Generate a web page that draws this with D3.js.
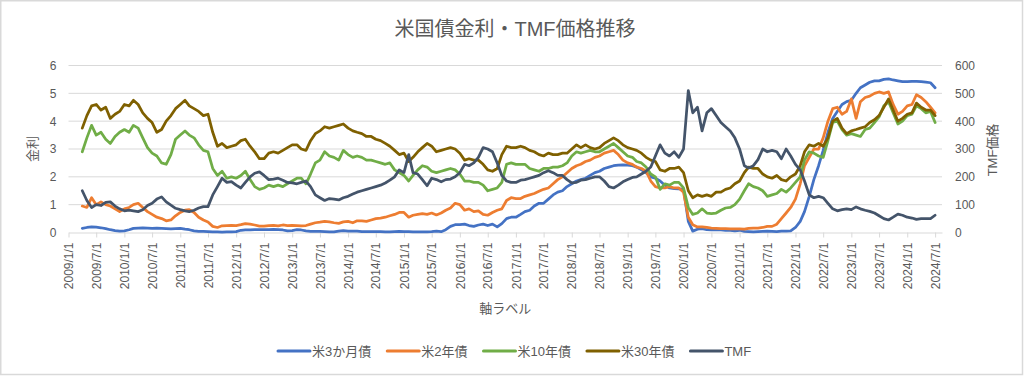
<!DOCTYPE html>
<html>
<head>
<meta charset="utf-8">
<script src="https://cdn.jsdelivr.net/npm/d3@7"></script>
<style>
  html, body { margin: 0; padding: 0; background: #fff; }
  svg { display: block; font-family: "Liberation Sans", "Noto Sans CJK JP", sans-serif; }
</style>
</head>
<body>
<div id="chart"></div>
<script>
// monthly readings, 2009/4 .. 2024/7
const startMonth = new Date(2009, 3, 1);
const endMonth = new Date(2024, 7, 1);

const seriesNames = ["米3か月債", "米2年債", "米10年債", "米30年債", "TMF"];
const seriesColors = ["#4472C4", "#ED7D31", "#70AD47", "#7F6000", "#44546A"];

const bill3m = [
  0.15,0.18,0.2,0.19,0.17,0.14,0.1,0.07,0.05,0.06,
  0.1,0.15,0.16,0.17,0.16,0.15,0.16,0.15,0.14,0.13,0.14,0.15,
  0.12,0.1,0.06,0.04,0.04,0.03,0.02,0.02,0.01,0.02,0.02,0.03,
  0.08,0.09,0.09,0.1,0.1,0.1,0.1,0.11,0.1,0.09,0.06,0.07,
  0.1,0.09,0.06,0.04,0.04,0.04,0.03,0.02,0.02,0.05,0.07,0.05,
  0.05,0.05,0.03,0.03,0.03,0.03,0.03,0.02,0.02,0.03,0.04,0.03,
  0.03,0.02,0.02,0.02,0.02,0.03,0.05,0.03,0.1,0.22,0.28,0.28,
  0.3,0.25,0.22,0.27,0.3,0.25,0.3,0.2,0.32,0.5,0.55,0.55,
  0.65,0.75,0.8,0.95,1.05,1.05,1.2,1.35,1.45,1.5,1.65,1.75,
  1.85,1.9,1.95,2.05,2.15,2.2,2.3,2.35,2.4,2.42,2.43,2.42,
  2.4,2.35,2.25,2.15,2.0,1.95,1.85,1.7,1.6,1.58,1.57,1.55,
  0.4,0.05,0.12,0.14,0.1,0.09,0.1,0.09,0.08,0.08,0.06,0.08,
  0.04,0.03,0.02,0.03,0.04,0.05,0.04,0.03,0.05,0.05,0.06,0.18,
  0.4,0.75,1.3,1.9,2.4,2.95,3.6,4.1,4.35,4.6,4.7,4.75,
  5.0,5.2,5.3,5.4,5.45,5.45,5.5,5.52,5.48,5.45,5.42,5.42,
  5.43,5.43,5.42,5.4,5.38,5.2
];

const note2y = [
  0.95,0.9,1.25,1.0,1.1,1.0,0.95,0.85,0.75,0.85,
  0.9,1.0,1.05,0.9,0.75,0.65,0.55,0.5,0.42,0.45,0.6,0.72,
  0.8,0.82,0.72,0.55,0.45,0.38,0.22,0.18,0.24,0.25,0.26,0.25,
  0.28,0.32,0.3,0.27,0.23,0.23,0.25,0.26,0.24,0.27,0.25,0.26,
  0.25,0.24,0.25,0.3,0.35,0.37,0.4,0.38,0.35,0.33,0.38,0.4,
  0.35,0.42,0.42,0.4,0.45,0.5,0.52,0.55,0.6,0.65,0.72,0.72,
  0.55,0.62,0.65,0.68,0.65,0.7,0.63,0.7,0.8,0.88,1.05,1.0,
  0.8,0.85,0.75,0.78,0.65,0.62,0.72,0.8,0.85,1.15,1.25,1.22,
  1.22,1.3,1.35,1.4,1.48,1.55,1.6,1.75,1.9,2.0,2.15,2.3,
  2.4,2.45,2.55,2.6,2.7,2.75,2.85,2.9,2.95,2.8,2.6,2.5,
  2.45,2.35,2.3,2.2,1.85,1.65,1.6,1.6,1.65,1.6,1.6,1.45,
  0.55,0.28,0.2,0.2,0.18,0.16,0.15,0.14,0.14,0.13,0.13,0.13,
  0.12,0.15,0.16,0.16,0.18,0.22,0.22,0.3,0.5,0.7,0.9,1.2,
  1.75,2.4,2.7,3.0,3.0,3.4,4.0,4.45,4.5,4.25,4.35,4.8,
  4.1,4.7,4.85,4.9,5.0,5.05,5.0,5.05,4.6,4.25,4.35,4.55,
  4.6,4.95,4.85,4.7,4.5,4.3
];

const note10y = [
  2.9,3.4,3.85,3.5,3.6,3.35,3.2,3.45,3.6,3.7,
  3.6,3.85,3.75,3.4,3.05,2.85,2.75,2.5,2.45,2.8,3.35,3.5,
  3.65,3.5,3.4,3.15,2.95,2.9,2.3,2.05,2.2,1.95,2.0,1.95,
  2.05,2.2,1.9,1.65,1.55,1.6,1.7,1.65,1.7,1.65,1.75,1.85,
  1.95,1.95,1.75,2.1,2.5,2.6,2.9,2.75,2.7,2.6,2.95,2.8,
  2.7,2.75,2.7,2.6,2.6,2.55,2.5,2.45,2.5,2.25,2.15,2.05,
  1.85,2.05,2.25,2.4,2.35,2.2,2.15,2.2,2.25,2.3,2.25,2.1,
  1.85,1.85,1.8,1.8,1.7,1.5,1.55,1.6,1.8,2.45,2.5,2.45,
  2.45,2.45,2.3,2.25,2.2,2.3,2.3,2.35,2.35,2.4,2.5,2.75,
  2.9,2.85,2.9,2.95,2.9,2.9,3.0,3.1,3.2,3.05,2.9,2.75,
  2.7,2.55,2.5,2.35,2.1,2.0,1.55,1.75,1.7,1.8,1.8,1.6,
  0.9,0.65,0.7,0.85,0.7,0.68,0.7,0.8,0.88,0.9,1.0,1.2,
  1.5,1.75,1.65,1.6,1.5,1.3,1.35,1.4,1.55,1.45,1.6,1.8,
  2.0,2.6,2.9,2.85,2.75,2.7,3.3,3.95,4.0,3.7,3.5,3.55,
  3.5,3.45,3.7,3.75,3.95,4.15,4.55,4.7,4.3,3.9,4.0,4.2,
  4.25,4.55,4.45,4.3,4.35,3.95
];

const bond30y = [
  3.75,4.2,4.55,4.6,4.4,4.5,4.1,4.25,4.35,4.6,
  4.55,4.75,4.6,4.3,4.1,3.95,3.6,3.7,4.0,4.2,4.45,4.6,
  4.75,4.55,4.45,4.35,4.2,4.25,3.6,3.1,3.2,3.05,3.1,3.15,
  3.3,3.35,3.1,2.9,2.65,2.65,2.85,2.9,2.85,2.95,3.05,3.15,
  3.15,3.0,2.95,3.3,3.55,3.65,3.8,3.75,3.8,3.85,3.9,3.75,
  3.65,3.6,3.55,3.45,3.45,3.35,3.3,3.2,3.1,2.95,2.8,2.85,
  2.55,2.7,2.9,3.05,3.2,3.1,2.9,2.95,3.0,3.05,3.0,2.85,
  2.6,2.65,2.6,2.6,2.45,2.25,2.2,2.3,2.8,3.1,3.05,3.05,
  3.1,3.05,2.95,2.9,2.8,2.75,2.85,2.8,2.8,2.85,2.85,3.0,
  3.15,3.05,3.15,3.05,3.0,3.05,3.2,3.3,3.4,3.3,3.15,3.05,
  3.0,2.95,2.85,2.7,2.6,2.55,2.25,2.2,2.3,2.3,2.35,2.15,
  1.5,1.25,1.35,1.3,1.35,1.3,1.45,1.45,1.55,1.6,1.75,1.85,
  2.15,2.35,2.3,2.3,2.1,2.0,1.95,2.05,1.9,1.85,2.0,2.1,
  2.4,2.9,3.15,3.1,3.2,3.1,3.4,4.0,4.1,3.75,3.55,3.65,
  3.7,3.75,3.8,3.95,4.05,4.2,4.5,4.8,4.4,4.0,4.1,4.25,
  4.3,4.65,4.5,4.4,4.4,4.2
];

const tmf = [
  150,115,90,100,97,108,110,95,85,78,
  80,78,75,82,97,105,120,128,110,98,87,82,
  78,75,80,88,93,93,135,165,195,180,183,170,
  160,180,200,213,218,205,190,192,195,188,180,178,
  175,180,185,165,135,125,115,122,120,117,125,130,
  138,145,150,155,160,165,170,178,188,200,225,215,
  280,215,210,190,168,195,190,182,190,192,200,215,
  245,240,250,270,305,300,290,250,205,185,180,180,
  188,190,195,200,205,215,222,215,205,205,190,178,
  180,188,190,195,200,200,185,165,160,170,182,190,
  198,200,210,220,235,275,315,285,275,290,270,300,
  510,430,450,365,430,445,420,395,380,365,340,300,
  240,232,240,262,300,290,295,290,265,300,275,245,
  225,185,135,125,130,125,105,85,78,82,85,82,
  92,85,80,76,70,60,50,45,55,66,62,55,
  52,47,50,50,50,62
];

const leftTicks = [0, 1, 2, 3, 4, 5, 6];
const rightTicks = [0, 100, 200, 300, 400, 500, 600];

const months = d3.timeMonth.range(startMonth, endMonth);

const W = 1024, H = 376;
const plot = {left: 68.5, right: 942, top: 65.5, bottom: 232.5};
const textColor = "#595959";
const gridColor = "#d9d9d9";

const svg = d3.select("#chart").append("svg")
    .attr("width", W).attr("height", H);

svg.append("rect")
    .attr("x", 0.75).attr("y", 0.75).attr("width", W - 2.25).attr("height", H - 2.25)
    .attr("fill", "#fff").attr("stroke", "#d9d9d9").attr("stroke-width", 1.5);

const x = d3.scaleTime()
    .domain([new Date(2009, 0, 1), new Date(2024, 7, 15)])
    .range([plot.left, plot.right]);
const yL = d3.scaleLinear().domain([0, 6]).range([plot.bottom, plot.top]);
const yR = d3.scaleLinear().domain([0, 600]).range([plot.bottom, plot.top]);

// gridlines
svg.append("g").selectAll("line").data(leftTicks.slice(1)).join("line")
    .attr("x1", plot.left).attr("x2", plot.right)
    .attr("y1", d => yL(d)).attr("y2", d => yL(d))
    .attr("stroke", gridColor).attr("stroke-width", 1);

// x axis
const xTicks = d3.timeMonth.every(6).range(new Date(2009, 0, 1), new Date(2024, 7, 2));
const xAxis = svg.append("g")
    .attr("transform", `translate(0,${plot.bottom})`)
    .call(d3.axisBottom(x).tickValues(xTicks).tickFormat(d3.timeFormat("%Y/%-m/%-d")).tickSize(5).tickSizeOuter(0));
xAxis.select(".domain").attr("stroke", gridColor);
xAxis.selectAll(".tick line").attr("stroke", gridColor);
xAxis.selectAll(".tick text")
    .attr("fill", textColor).attr("font-size", 12)
    .attr("transform", "rotate(-90)")
    .attr("x", -10).attr("y", 0).attr("dy", "0.35em")
    .attr("text-anchor", "end");

// left axis
const left = svg.append("g")
    .attr("transform", `translate(${plot.left},0)`)
    .call(d3.axisLeft(yL).tickValues(leftTicks).tickFormat(d3.format("d")).tickSize(0).tickPadding(12));
left.select(".domain").remove();
left.selectAll("text").attr("fill", textColor).attr("font-size", 12);

// right axis
const right = svg.append("g")
    .attr("transform", `translate(${plot.right},0)`)
    .call(d3.axisRight(yR).tickValues(rightTicks).tickFormat(d3.format("d")).tickSize(0).tickPadding(13));
right.select(".domain").remove();
right.selectAll("text").attr("fill", textColor).attr("font-size", 12);

// series
const primary = [bill3m, note2y, note10y, bond30y];
primary.forEach((vals, k) => {
  svg.append("path").datum(vals)
      .attr("d", d3.line().x((d, i) => x(months[i])).y(d => yL(d)))
      .attr("fill", "none").attr("stroke", seriesColors[k])
      .attr("stroke-width", 2.75).attr("stroke-linejoin", "round").attr("stroke-linecap", "round");
});
svg.append("path").datum(tmf)
    .attr("d", d3.line().x((d, i) => x(months[i])).y(d => yR(d)))
    .attr("fill", "none").attr("stroke", seriesColors[4])
    .attr("stroke-width", 2.75).attr("stroke-linejoin", "round").attr("stroke-linecap", "round");

// titles
svg.append("text").attr("x", 515).attr("y", 36).attr("text-anchor", "middle")
    .attr("font-size", 20).attr("fill", textColor).text("米国債金利・TMF価格推移");
svg.append("text").attr("x", (plot.left + plot.right) / 2).attr("y", 313).attr("text-anchor", "middle")
    .attr("font-size", 13).attr("fill", textColor).text("軸ラベル");
svg.append("text").attr("transform", "translate(37,149) rotate(-90)").attr("text-anchor", "middle")
    .attr("font-size", 13).attr("fill", textColor).text("金利");
svg.append("text").attr("transform", "translate(997,150) rotate(-90)").attr("text-anchor", "middle")
    .attr("font-size", 13).attr("fill", textColor).text("TMF価格");

// legend
const legend = svg.append("g").attr("transform", "translate(278,351)");
let lx = 0;
seriesNames.forEach((name, k) => {
  const g = legend.append("g").attr("transform", `translate(${lx},0)`);
  g.append("line").attr("x1", 0).attr("x2", 32).attr("y1", 0).attr("y2", 0)
      .attr("stroke", seriesColors[k]).attr("stroke-width", 3).attr("stroke-linecap", "round");
  const t = g.append("text").attr("x", 34).attr("y", 0).attr("dy", "0.35em")
      .attr("font-size", 13).attr("fill", textColor).text(name);
  lx += 34 + t.node().getComputedTextLength() + 16;
});
</script>
</body>
</html>
